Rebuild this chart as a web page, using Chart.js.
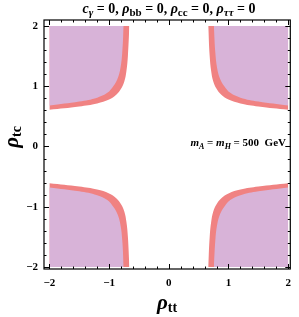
<!DOCTYPE html>
<html>
<head>
<meta charset="utf-8">
<script src="https://cdn.jsdelivr.net/npm/chart.js@4.4.1/dist/chart.umd.min.js"></script>
<style>
  html, body { margin: 0; padding: 0; background: #fff; }
  #wrap { width: 299px; height: 317px; }
</style>
</head>
<body>
<div id="wrap"><canvas id="chart" width="299" height="317"></canvas></div>
<script>
// upper-right quadrant boundaries; the other three are mirror images
const outerX = [0.66, 0.685, 0.71, 0.745, 0.80, 0.88, 1.0, 1.2, 1.5, 2.0];
const outerY = [2.0, 1.5, 1.25, 1.08, 0.96, 0.86, 0.78, 0.715, 0.665, 0.61];
const innerX = [0.755, 0.78, 0.81, 0.86, 0.93, 1.03, 1.2, 1.5, 2.0];
const innerY = [2.0, 1.55, 1.3, 1.12, 1.0, 0.89, 0.81, 0.745, 0.68];
const quadrants = [[1, 1], [-1, 1], [-1, -1], [1, -1]];
const edge = 2;

const xTicks = [-2, -1, 0, 1, 2];
const yTicks = [-2, -1, 0, 1, 2];
const tickLabels = ['\u22122', '\u22121', '0', '1', '2'];

const RED = 'rgb(240,130,130)';
const PURPLE = 'rgb(216,179,216)';
const SERIF = '"Liberation Serif", "DejaVu Serif", serif';

function mirrored(xs, ys, sx, sy) {
    const pts = xs.map((x, i) => ({ x: sx * x, y: sy * ys[i] }));
    pts.sort((a, b) => a.x - b.x);
    return pts;
}

const datasets = [];
quadrants.forEach(([sx, sy]) => {
    datasets.push({
        data: mirrored(innerX, innerY, sx, sy),
        backgroundColor: PURPLE,
        fill: { value: sy * edge },
        order: 0
    });
    datasets.push({
        data: mirrored(outerX, outerY, sx, sy),
        backgroundColor: RED,
        fill: { value: sy * edge },
        order: 1
    });
});

// draws a line of text made of pieces with their own font and vertical shift
function richText(ctx, segs, x, y, align) {
    let w = 0;
    segs.forEach(s => { ctx.font = s[1]; w += ctx.measureText(s[0]).width; });
    let cx = align === 'center' ? x - w / 2 : align === 'right' ? x - w : x;
    ctx.textAlign = 'left';
    ctx.textBaseline = 'alphabetic';
    segs.forEach(s => {
        ctx.font = s[1];
        ctx.fillText(s[0], cx, y + (s[2] || 0));
        cx += ctx.measureText(s[0]).width;
    });
}

const B = (n) => 'bold ' + n + 'px ' + SERIF;
const BI = (n) => 'italic bold ' + n + 'px ' + SERIF;

const frame = {
    id: 'frame',
    afterDraw(chart) {
        const ctx = chart.ctx;
        const a = chart.chartArea;
        const xs = chart.scales.x, ys = chart.scales.y;
        ctx.save();
        ctx.strokeStyle = '#000';
        ctx.lineWidth = 1.2;
        ctx.strokeRect(a.left, a.top, a.right - a.left, a.bottom - a.top);
        ctx.lineWidth = 1;
        ctx.beginPath();
        for (let i = -10; i <= 10; i++) {
            const v = i / 5;
            const len = i % 5 === 0 ? 5 : 2.5;
            const px = Math.round(xs.getPixelForValue(v)) + 0.5;
            const py = Math.round(ys.getPixelForValue(v)) + 0.5;
            ctx.moveTo(px, a.bottom); ctx.lineTo(px, a.bottom - len);
            ctx.moveTo(px, a.top); ctx.lineTo(px, a.top + len);
            ctx.moveTo(a.left, py); ctx.lineTo(a.left + len, py);
            ctx.moveTo(a.right, py); ctx.lineTo(a.right - len, py);
        }
        ctx.stroke();

        ctx.fillStyle = '#000';
        // title
        richText(ctx, [
            ['c', BI(14)], ['\u03b3', BI(11), 3], [' = 0, ', B(14)],
            ['\u03c1', BI(14)], ['bb', B(11), 3], [' = 0, ', B(14)],
            ['\u03c1', BI(14)], ['cc', B(11), 3], [' = 0, ', B(14)],
            ['\u03c1', BI(14)], ['\u03c4\u03c4', BI(11), 3], [' = 0', B(14)]
        ], 169, 13, 'center');

        // annotation
        richText(ctx, [
            ['m', BI(11)], ['A', BI(8), 3], [' = ', B(11)],
            ['m', BI(11)], ['H', BI(8), 3], [' = 500  GeV', B(11)]
        ], 286, 146, 'right');

        // x axis title
        richText(ctx, [['\u03c1', BI(21)], ['tt', B(14), 3]], 167, 309, 'center');

        // y axis title
        ctx.translate(18, 137);
        ctx.rotate(-Math.PI / 2);
        richText(ctx, [['\u03c1', BI(21)], ['tc', B(14), 3]], 0, 0, 'center');
        ctx.restore();
    }
};

new Chart(document.getElementById('chart'), {
    type: 'line',
    data: { datasets: datasets },
    options: {
        responsive: false,
        animation: false,
        events: [],
        layout: { padding: { left: 0, right: 5, top: 20, bottom: 0 } },
        elements: {
            line: { borderWidth: 0, tension: 0.4 },
            point: { radius: 0 }
        },
        plugins: {
            legend: { display: false },
            tooltip: { enabled: false },
            title: { display: false }
        },
        scales: {
            x: {
                type: 'linear',
                min: -2.09,
                max: 2.035,
                afterBuildTicks: s => { s.ticks = xTicks.map(v => ({ value: v })); },
                afterFit: s => { s.height = 48; },
                grid: { display: false, drawTicks: false },
                border: { display: false },
                ticks: {
                    padding: 8,
                    color: '#000',
                    font: { family: SERIF, weight: 'bold', size: 11 },
                    callback: v => tickLabels[xTicks.indexOf(v)]
                }
            },
            y: {
                type: 'linear',
                min: -2.035,
                max: 2.1,
                afterBuildTicks: s => { s.ticks = yTicks.map(v => ({ value: v })); },
                afterFit: s => { s.width = 44; },
                grid: { display: false, drawTicks: false },
                border: { display: false },
                ticks: {
                    padding: 6,
                    color: '#000',
                    font: { family: SERIF, weight: 'bold', size: 11 },
                    callback: v => tickLabels[yTicks.indexOf(v)]
                }
            }
        }
    },
    plugins: [frame]
});
</script>
</body>
</html>
